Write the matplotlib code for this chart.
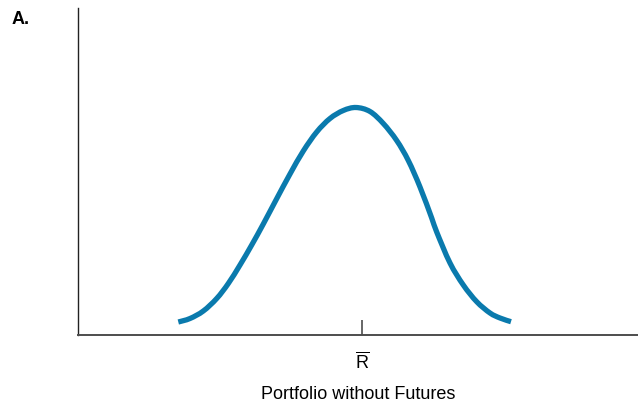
import matplotlib.pyplot as plt
from matplotlib.path import Path
from matplotlib.patches import PathPatch

# Curve (horizontal position, height above the axis)
ret = [100.3, 112, 125.3, 138.7, 150.3, 162, 173.7, 185.3, 198, 212, 225.3,
       238.7, 252, 265.3, 278, 292, 305.3, 318.7, 330.3, 342, 353.7, 358.7,
       372, 385.3, 398.7, 412, 422, 433]
dens = [13, 16.5, 24, 36.5, 51.5, 70, 90, 111, 135, 161, 184, 203, 216.5,
        224.5, 227.5, 223.5, 211.5, 194.5, 174.5, 148, 117, 103, 72, 50,
        33.3, 22, 17, 13.3]
tick_pos = [284]
tick_labels = [r'$\overline{\mathrm{R}}$']

plt.rcParams['font.family'] = ['Liberation Sans', 'DejaVu Sans']
plt.rcParams['mathtext.fontset'] = 'custom'
plt.rcParams['mathtext.rm'] = 'Liberation Sans'

fig = plt.figure(figsize=(6.38, 4.12), dpi=100)
ax = fig.add_axes([78/638, 77/412, 560/638, 327/412])

# smooth line through the read points (Catmull-Rom as cubic beziers)
pts = list(zip(ret, dens))
verts = [pts[0]]
codes = [Path.MOVETO]
for i in range(len(pts) - 1):
    p0 = pts[max(i - 1, 0)]
    p1 = pts[i]
    p2 = pts[i + 1]
    p3 = pts[min(i + 2, len(pts) - 1)]
    c1 = (p1[0] + (p2[0] - p0[0]) / 6, p1[1] + (p2[1] - p0[1]) / 6)
    c2 = (p2[0] - (p3[0] - p1[0]) / 6, p2[1] - (p3[1] - p1[1]) / 6)
    verts += [c1, c2, p2]
    codes += [Path.CURVE4] * 3
ax.add_patch(PathPatch(Path(verts, codes), facecolor='none',
                       edgecolor='#0a7aad', lw=3.8, capstyle='butt'))
ax.set_xlim(0, 560)
ax.set_ylim(0, 327)

for s in ['top', 'right']:
    ax.spines[s].set_visible(False)
ax.spines['left'].set_color('#222222')
ax.spines['left'].set_linewidth(1.0)
ax.spines['bottom'].set_color('#4d4d4d')
ax.spines['bottom'].set_linewidth(1.4)

ax.set_yticks([])
ax.set_xticks(tick_pos)
ax.set_xticklabels(tick_labels, fontsize=13)
ax.tick_params(axis='x', direction='in', length=11, width=1.2,
               color='#4d4d4d', pad=12)
ax.set_xlabel('Portfolio without Futures', fontsize=13, labelpad=10)

fig.text(12/638, 1 - 20/412, 'A.', fontsize=13, fontweight='bold', va='center')

fig.savefig('out.png', dpi=100)
